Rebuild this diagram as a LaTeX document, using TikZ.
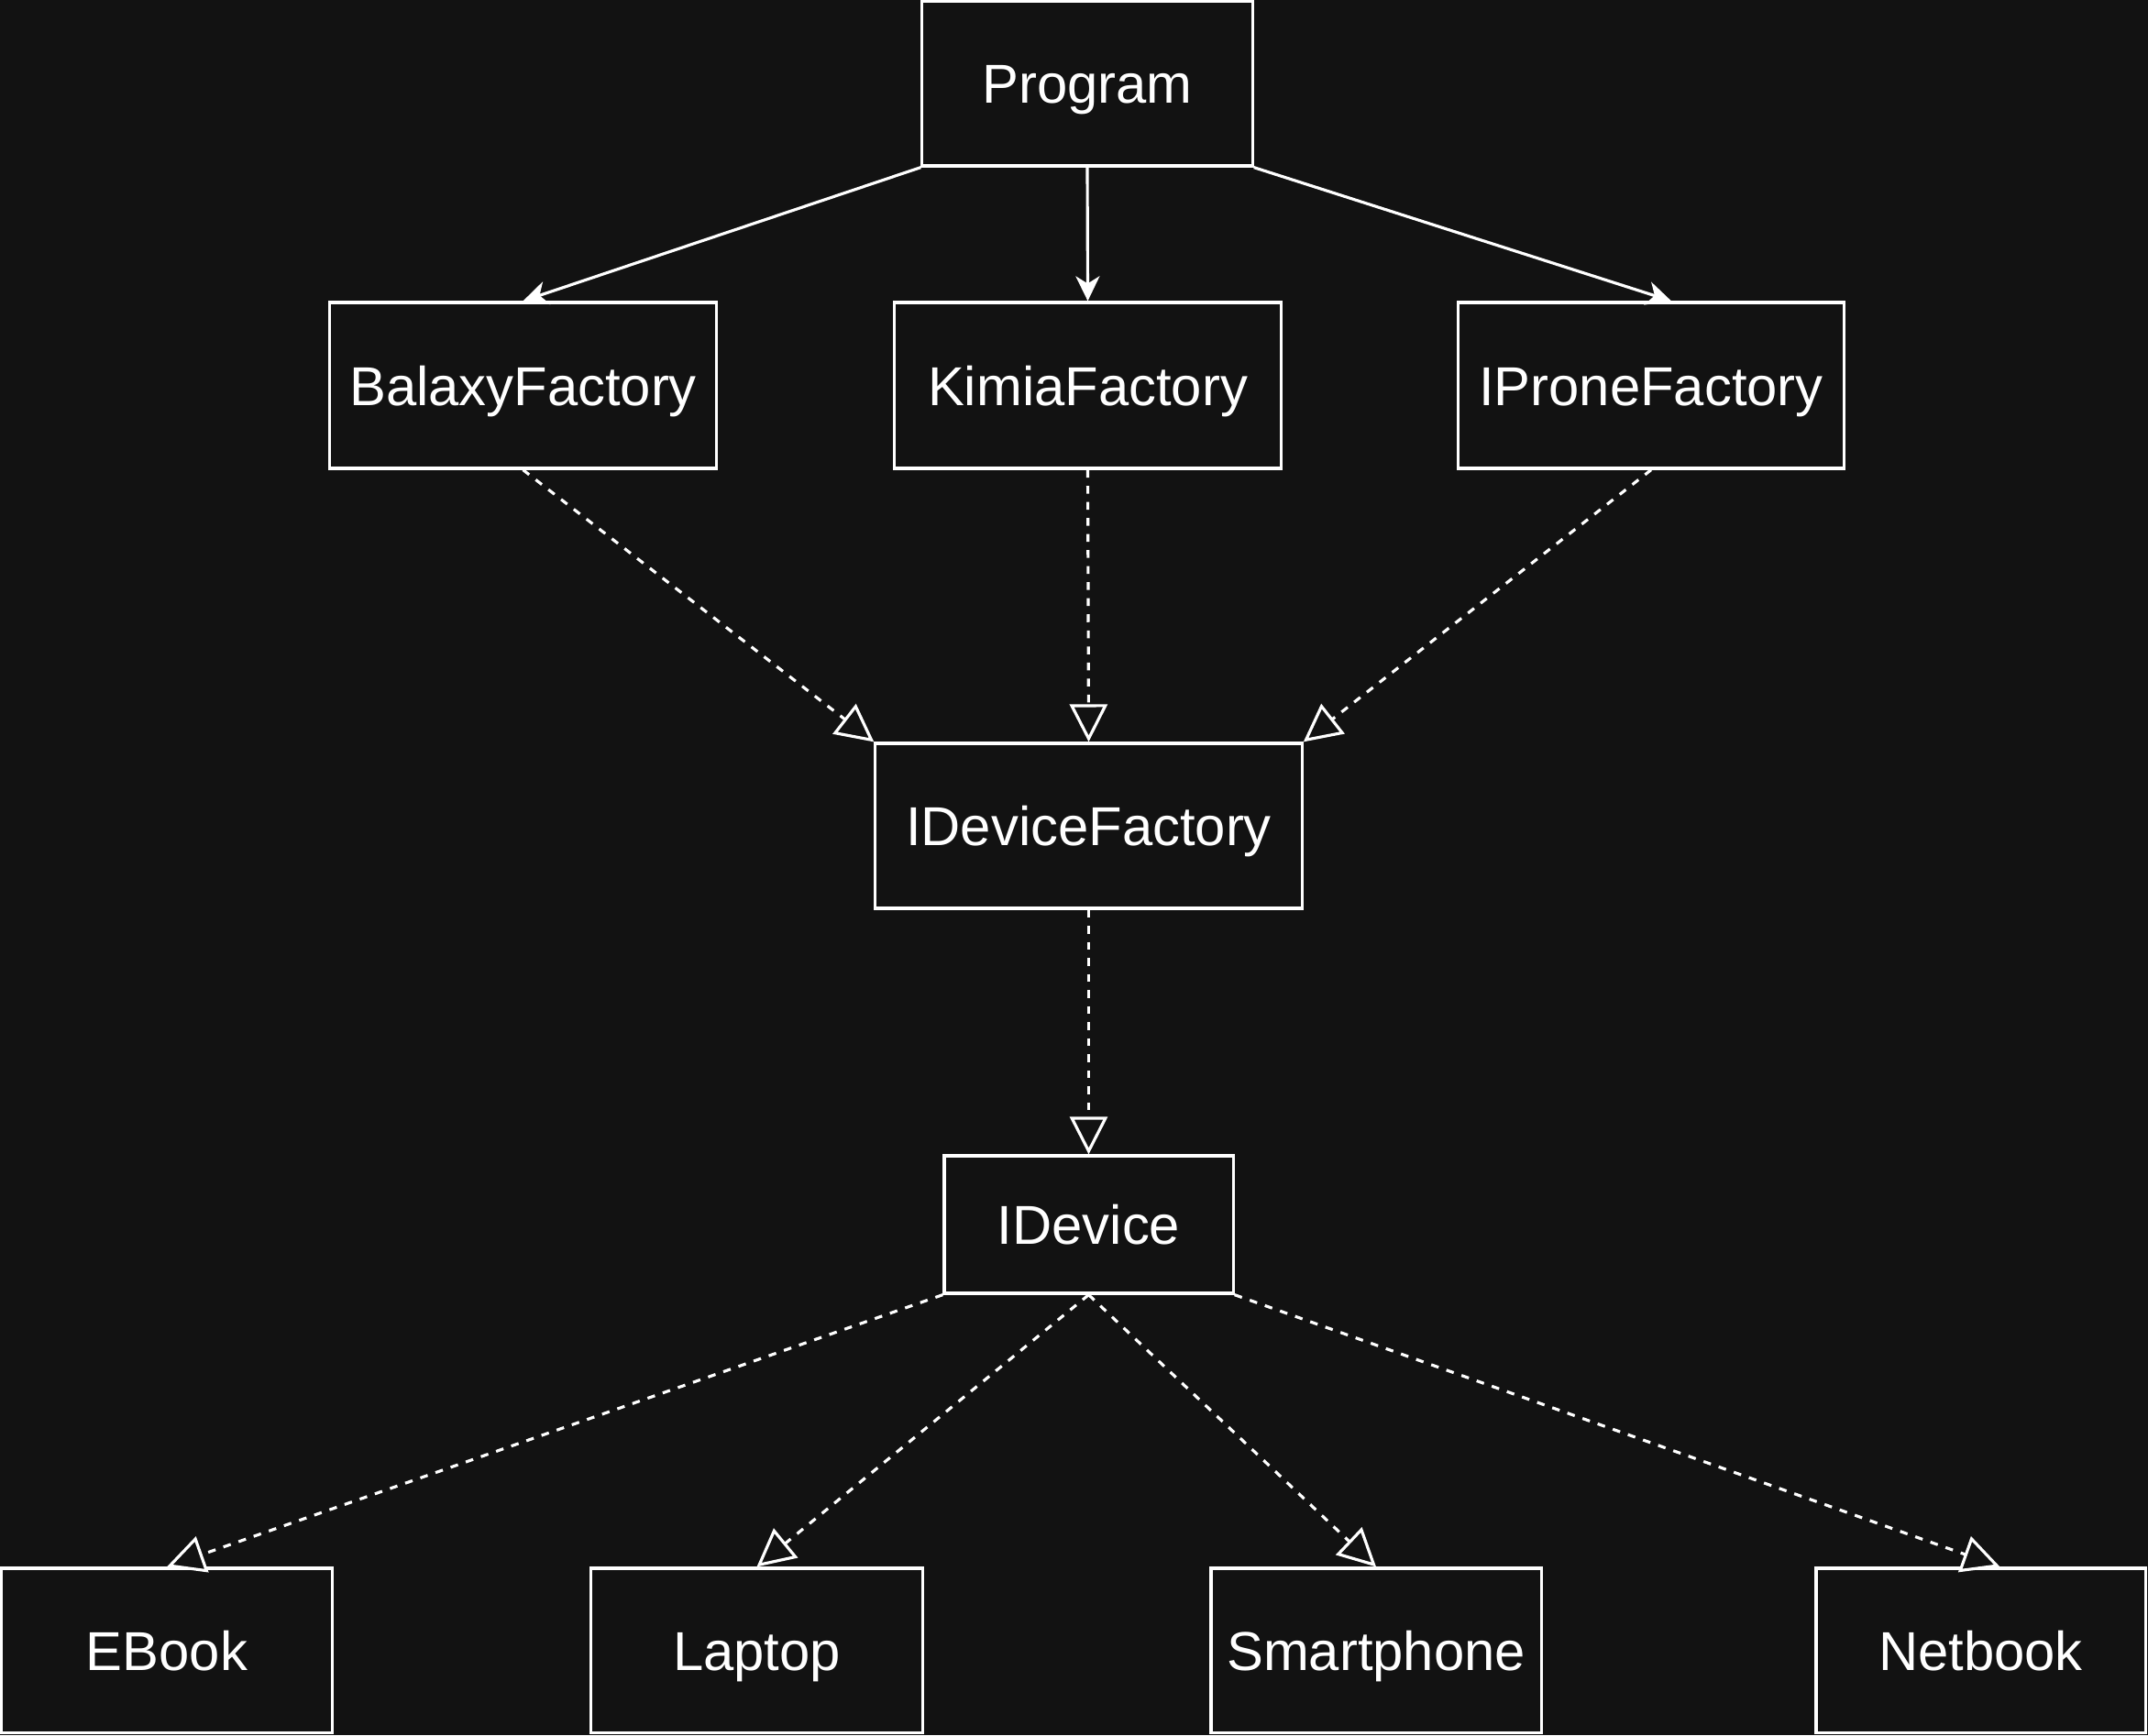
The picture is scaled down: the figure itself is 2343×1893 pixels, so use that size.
\documentclass[tikz,border=0pt]{standalone}
\usepackage{fontspec}
\setmainfont{Liberation Sans}
\usetikzlibrary{arrows.meta}
\definecolor{bg}{HTML}{121212}
\begin{document}
\begin{tikzpicture}[x=0.01cm,y=-0.01cm,
  box/.style={draw=white,line width=0.9pt,rectangle,inner sep=0pt,text=white,font=\fontsize{17}{20}\selectfont,text height=0.43cm,text depth=0pt},
  assoc/.style={draw=white,line width=0.9pt,-{Stealth[length=0.27cm,width=0.26cm,inset=0.08cm]}},
  impl/.style={draw=white,line width=0.9pt,dash pattern=on 0.085cm off 0.09cm,-{Triangle[open,length=0.41cm,width=0.41cm,fill=bg]}}]
\fill[bg] (0,0) rectangle (2343,1893);
\useasboundingbox (0,0) rectangle (2343,1893);
\node[box,minimum width=3.6cm,minimum height=1.8cm] (prog) at (1186,91) {Program};
\node[box,minimum width=4.21cm,minimum height=1.81cm] (bal) at (570.5,420.5) {BalaxyFactory};
\node[box,minimum width=4.21cm,minimum height=1.81cm] (kim) at (1186.5,420.5) {KimiaFactory};
\node[box,minimum width=4.2cm,minimum height=1.81cm] (ipr) at (1801,420.5) {IProneFactory};
\node[box,minimum width=4.65cm,minimum height=1.8cm] (idf) at (1187.5,901) {IDeviceFactory};
\node[box,minimum width=3.15cm,minimum height=1.5cm] (idev) at (1187.5,1336) {IDevice};
\node[box,minimum width=3.6cm,minimum height=1.79cm] (ebook) at (182,1800.5) {EBook};
\node[box,minimum width=3.61cm,minimum height=1.79cm] (lap) at (825.5,1800.5) {Laptop};
\node[box,minimum width=3.6cm,minimum height=1.79cm] (smart) at (1501,1800.5) {Smartphone};
\node[box,minimum width=3.59cm,minimum height=1.79cm] (net) at (2160.5,1800.5) {Netbook};
\coordinate (iprin) at ([xshift=0.22cm]ipr.north);
\coordinate (netin) at ([xshift=0.21cm]net.north);
\draw[assoc] (prog.south west) -- (bal.north);
\draw[assoc] (prog.south) -- (kim.north);
\draw[assoc] (prog.south east) -- (iprin);
\draw[impl] (bal.south) -- (idf.north west);
\draw[impl] (kim.south) -- (idf.north);
\draw[impl] (ipr.south) -- (idf.north east);
\draw[impl] (idf.south) -- (idev.north);
\draw[impl] (idev.south west) -- (ebook.north);
\draw[impl] (idev.south) -- (lap.north);
\draw[impl] (idev.south) -- (smart.north);
\draw[impl] (idev.south east) -- (netin);
\end{tikzpicture}
\end{document}
